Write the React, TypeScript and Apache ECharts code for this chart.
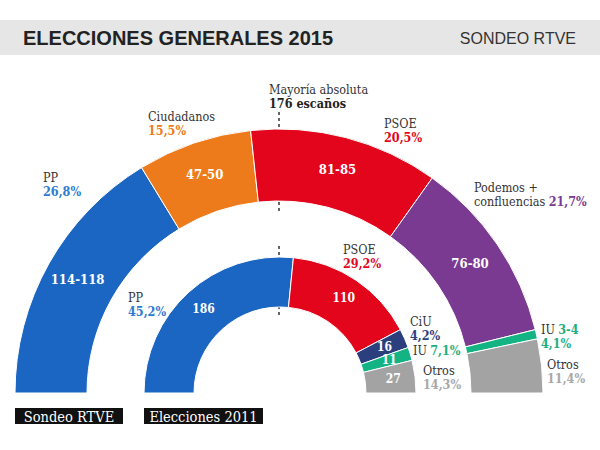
import React, { useEffect, useRef } from "react";
import * as echarts from "echarts";

// ---- data ----
const parties2015 = ["PP", "Ciudadanos", "PSOE", "Podemos + confluencias", "IU", "Otros"];
const seats2015 = [114, 49, 81, 79, 4, 23]; // estimated seat shares (sum 350)
const ranges2015 = ["114-118", "47-50", "81-85", "76-80", "3-4", ""];
const votes2015 = ["26,8%", "15,5%", "20,5%", "21,7%", "4,1%", "11,4%"];
const colors2015 = ["#1a66c2", "#ee7b1b", "#e3051b", "#7b3a92", "#13b383", "#a3a3a3"];

const parties2011 = ["PP", "PSOE", "CiU", "IU", "Otros"];
const seats2011 = [186, 110, 16, 11, 27];
const votes2011 = ["45,2%", "29,2%", "4,2%", "7,1%", "14,3%"];
const colors2011 = ["#1a66c2", "#e3051b", "#2b3f7f", "#13b383", "#a3a3a3"];

const textColors: Record<string, string> = {
  PP: "#2e7bd1",
  Ciudadanos: "#ee7b1b",
  PSOE: "#e3051b",
  "Podemos + confluencias": "#7b3a92",
  IU: "#1fae80",
  Otros: "#a8a8a8",
  CiU: "#2b3f7f",
};

const MAJORITY = "176 escaños";

const SERIF = "'DejaVu Serif Condensed', 'DejaVu Serif', serif";
const LINE = 14;

function buildPieData(names: string[], seats: number[], colors: string[], labels: string[]) {
  const total = seats.reduce((a, b) => a + b, 0);
  const d: any[] = names.map((n, i) => ({
    name: n,
    value: seats[i],
    itemStyle: { color: colors[i], borderColor: "#fff", borderWidth: 1 },
    label: { show: labels[i] !== "", formatter: labels[i] },
  }));
  d.push({
    name: "_blank",
    value: total,
    itemStyle: { color: "rgba(0,0,0,0)", borderWidth: 0 },
    label: { show: false },
    emphasis: { disabled: true },
  });
  return d;
}

function twoLine(x: number, y: number, name: string, pct: string, color: string) {
  return [
    {
      type: "text",
      x,
      y,
      style: { text: name, fill: "#333", font: `normal 12.5px ${SERIF}`, verticalAlign: "middle" },
    },
    {
      type: "text",
      x,
      y: y + LINE,
      style: { text: pct, fill: color, font: `bold 12.5px ${SERIF}`, verticalAlign: "middle" },
    },
  ];
}

function inlineLabel(x: number, y: number, name: string, val: string, color: string) {
  return {
    type: "text",
    x,
    y,
    style: {
      text: `{n|${name}} {v|${val}}`,
      verticalAlign: "middle",
      rich: {
        n: { fill: "#333", font: `normal 12.5px ${SERIF}` },
        v: { fill: color, font: `bold 12.5px ${SERIF}` },
      },
    },
  };
}

export default function App() {
  const ref = useRef<HTMLDivElement>(null);
  useEffect(() => {
    document.body.style.margin = "0";
    if (!ref.current) return;
    const chart = echarts.init(ref.current, null, { renderer: "svg" });

    const graphics: any[] = [
      { type: "rect", shape: { x: 0, y: 20, width: 600, height: 35 }, style: { fill: "#e6e6e6" } },
      {
        type: "text",
        x: 23,
        y: 38,
        style: {
          text: "ELECCIONES GENERALES 2015",
          fill: "#222",
          font: "bold 20px 'Liberation Sans', Arial, sans-serif",
          verticalAlign: "middle",
        },
      },
      {
        type: "text",
        x: 576,
        y: 38,
        style: {
          text: "SONDEO RTVE",
          fill: "#333",
          font: "normal 16px 'Liberation Sans', Arial, sans-serif",
          align: "right",
          verticalAlign: "middle",
        },
      },
      // majority line
      {
        type: "line",
        shape: { x1: 279, y1: 112, x2: 279, y2: 212 },
        style: { stroke: "#333", lineWidth: 1.5, lineDash: [3, 3] },
      },
      {
        type: "line",
        shape: { x1: 279, y1: 246, x2: 279, y2: 316 },
        style: { stroke: "#333", lineWidth: 1.5, lineDash: [3, 3] },
      },
      {
        type: "text",
        x: 269,
        y: 89,
        style: { text: "Mayoría absoluta", fill: "#333", font: `normal 12.5px ${SERIF}`, verticalAlign: "middle" },
      },
      {
        type: "text",
        x: 269,
        y: 89 + LINE,
        style: { text: MAJORITY, fill: "#222", font: `bold 12.5px ${SERIF}`, verticalAlign: "middle" },
      },
      // 2015 labels
      ...twoLine(43, 177, parties2015[0], votes2015[0], textColors.PP),
      ...twoLine(148, 116, parties2015[1], votes2015[1], textColors.Ciudadanos),
      ...twoLine(384, 123, parties2015[2], votes2015[2], textColors.PSOE),
      {
        type: "text",
        x: 474,
        y: 187,
        style: { text: "Podemos +", fill: "#333", font: `normal 12.5px ${SERIF}`, verticalAlign: "middle" },
      },
      inlineLabel(474, 187 + LINE, "confluencias", votes2015[3], textColors["Podemos + confluencias"]),
      inlineLabel(541, 329, parties2015[4], ranges2015[4], textColors.IU),
      {
        type: "text",
        x: 541,
        y: 329 + LINE,
        style: { text: votes2015[4], fill: textColors.IU, font: `bold 12.5px ${SERIF}`, verticalAlign: "middle" },
      },
      ...twoLine(547, 364, parties2015[5], votes2015[5], textColors.Otros),
      // 2011 labels
      ...twoLine(128, 297, parties2011[0], votes2011[0], textColors.PP),
      ...twoLine(343, 249, parties2011[1], votes2011[1], textColors.PSOE),
      ...twoLine(410, 321, parties2011[2], votes2011[2], textColors.CiU),
      inlineLabel(413, 350, parties2011[3], votes2011[3], textColors.IU),
      ...twoLine(423, 370, parties2011[4], votes2011[4], textColors.Otros),
      // bottom tags
      { type: "rect", shape: { x: 15, y: 408, width: 108, height: 16 }, style: { fill: "#111" } },
      {
        type: "text",
        x: 69,
        y: 416.5,
        style: { text: "Sondeo RTVE", fill: "#fff", font: `normal 14.5px ${SERIF}`, align: "center", verticalAlign: "middle" },
      },
      { type: "rect", shape: { x: 144, y: 408, width: 119, height: 16 }, style: { fill: "#111" } },
      {
        type: "text",
        x: 203.5,
        y: 416.5,
        style: { text: "Elecciones 2011", fill: "#fff", font: `normal 14.5px ${SERIF}`, align: "center", verticalAlign: "middle" },
      },
    ];

    const labelStyle = {
      position: "inside",
      color: "#fff",
      fontFamily: SERIF,
      fontWeight: "bold",
      fontSize: 13,
    };

    chart.setOption({
      animation: false,
      backgroundColor: "#fff",
      series: [
        {
          type: "pie",
          center: [279, 393],
          radius: [192, 264],
          startAngle: 180,
          clockwise: true,
          silent: true,
          avoidLabelOverlap: false,
          label: labelStyle,
          labelLine: { show: false },
          data: buildPieData(parties2015, seats2015, colors2015, ranges2015.map((r, i) => (i < 4 ? r : ""))),
        },
        {
          type: "pie",
          center: [280, 393],
          radius: [86, 136],
          startAngle: 180,
          clockwise: true,
          silent: true,
          avoidLabelOverlap: false,
          label: { ...labelStyle, fontSize: 12 },
          labelLine: { show: false },
          data: buildPieData(parties2011, seats2011, colors2011, seats2011.map(String)),
        },
      ],
      graphic: graphics,
    });
    return () => chart.dispose();
  }, []);
  return <div ref={ref} style={{ width: 600, height: 450 }} />;
}
